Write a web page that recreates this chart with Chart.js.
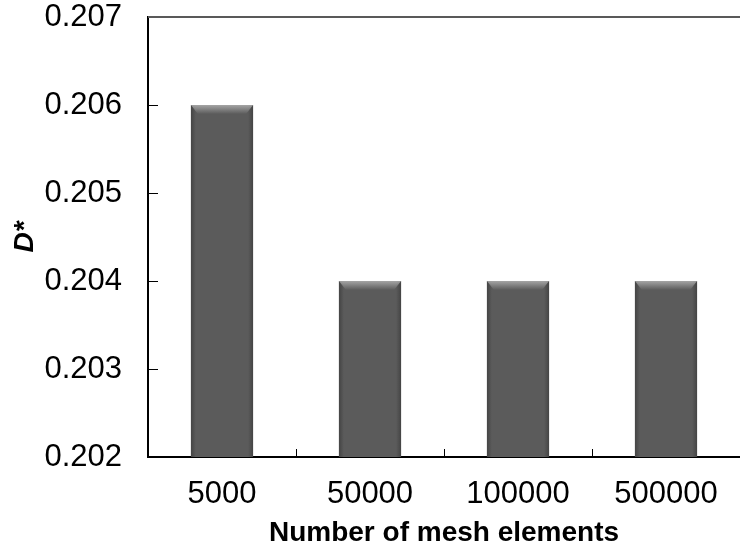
<!DOCTYPE html>
<html>
<head>
<meta charset="utf-8">
<script src="https://cdn.jsdelivr.net/npm/chart.js@4.4.1/dist/chart.umd.min.js"></script>
<style>
  html, body { margin: 0; padding: 0; background: #fff; }
  #wrap { width: 740px; height: 550px; position: relative; }
</style>
</head>
<body>
<div id="wrap"><canvas id="myChart"></canvas></div>
<script>
const categorias = ['5000', '50000', '100000', '500000'];
const valores = [0.206, 0.204, 0.204, 0.204];
const yMin = 0.202;
const yMax = 0.207;
const yPaso = 0.001;

// marcas hacia dentro, linea superior y relieve de las barras
const extras = {
    id: 'extras',
    afterDatasetsDraw(chart) {
        const ctx = chart.ctx;
        const meta = chart.getDatasetMeta(0);
        const a = chart.chartArea;
        ctx.save();
        for (let bar of meta.data) {
            const w = bar.width, x0 = bar.x - w / 2, top = bar.y;
            const base = Math.min(bar.base, a.bottom);
            // lados mas oscuros
            let g = ctx.createLinearGradient(x0, 0, x0 + w, 0);
            g.addColorStop(0, 'rgba(40,40,40,0.45)');
            g.addColorStop(0.08, 'rgba(40,40,40,0)');
            g.addColorStop(0.92, 'rgba(40,40,40,0)');
            g.addColorStop(1, 'rgba(40,40,40,0.45)');
            ctx.fillStyle = g;
            ctx.fillRect(x0, top, w, base - top);
            // borde superior claro
            let g2 = ctx.createLinearGradient(0, top, 0, top + 9);
            g2.addColorStop(0, 'rgba(190,190,190,0.75)');
            g2.addColorStop(1, 'rgba(190,190,190,0)');
            ctx.fillStyle = g2;
            ctx.beginPath();
            ctx.moveTo(x0, top);
            ctx.lineTo(x0 + w, top);
            ctx.lineTo(x0 + w - 7, top + 9);
            ctx.lineTo(x0 + 7, top + 9);
            ctx.closePath();
            ctx.fill();
        }
        const ys = chart.scales.y;
        ctx.strokeStyle = '#000';
        ctx.lineWidth = 1;
        ctx.beginPath();
        for (let v = yMin; v <= yMax + 1e-9; v += yPaso) {
            const py = Math.round(ys.getPixelForValue(v)) + 0.5;
            ctx.moveTo(a.left, py);
            ctx.lineTo(a.left + 10, py);
        }
        for (let i = 0; i <= categorias.length; i++) {
            const px = Math.round(a.left + (a.right - a.left) * i / categorias.length) + 0.5;
            ctx.moveTo(px, a.bottom);
            ctx.lineTo(px, a.bottom - 8);
        }
        ctx.stroke();
        // linea superior
        ctx.strokeStyle = '#595959';
        ctx.lineWidth = 2;
        ctx.beginPath();
        ctx.moveTo(a.left, ys.getPixelForValue(yMax));
        ctx.lineTo(a.right, ys.getPixelForValue(yMax));
        ctx.stroke();
        ctx.restore();
    }
};

const ctx = document.getElementById('myChart').getContext('2d');
new Chart(ctx, {
    type: 'bar',
    data: {
        labels: categorias,
        datasets: [{
            data: valores,
            backgroundColor: '#5b5b5b',
            borderWidth: 0,
            barPercentage: 0.42,
            categoryPercentage: 1
        }]
    },
    plugins: [extras],
    options: {
        responsive: true,
        maintainAspectRatio: false,
        animation: false,
        layout: { padding: { top: 17, left: 0, right: 0, bottom: 0 } },
        plugins: { legend: { display: false }, tooltip: { enabled: false } },
        scales: {
            x: {
                grid: { display: false, drawTicks: false },
                border: { display: true, color: '#000', width: 2 },
                ticks: {
                    color: '#000',
                    padding: 19,
                    font: { family: 'Liberation Sans, Arial', size: 31 }
                },
                title: {
                    display: true,
                    text: 'Number of mesh elements',
                    color: '#000',
                    padding: { top: 0, bottom: 0 },
                    font: { family: 'Liberation Sans, Arial', size: 28, weight: 'bold' }
                },
                afterFit: (scale) => { scale.height = 93; scale.paddingLeft = 0; scale.paddingRight = 0; }
            },
            y: {
                min: yMin,
                max: yMax,
                grid: { display: false, drawTicks: false },
                border: { display: true, color: '#000', width: 2 },
                ticks: {
                    stepSize: yPaso,
                    color: '#000',
                    padding: 26,
                    font: { family: 'Liberation Sans, Arial', size: 31 },
                    callback: (v) => v.toFixed(3)
                },
                title: {
                    display: true,
                    text: 'D*',
                    color: '#000',
                    padding: { top: 8, bottom: 0 },
                    font: { family: 'Liberation Sans, Arial', size: 28, weight: 'bold', style: 'italic' }
                },
                afterFit: (scale) => { scale.width = 148; scale.paddingTop = 0; scale.paddingBottom = 0; }
            }
        }
    }
});
</script>
</body>
</html>
